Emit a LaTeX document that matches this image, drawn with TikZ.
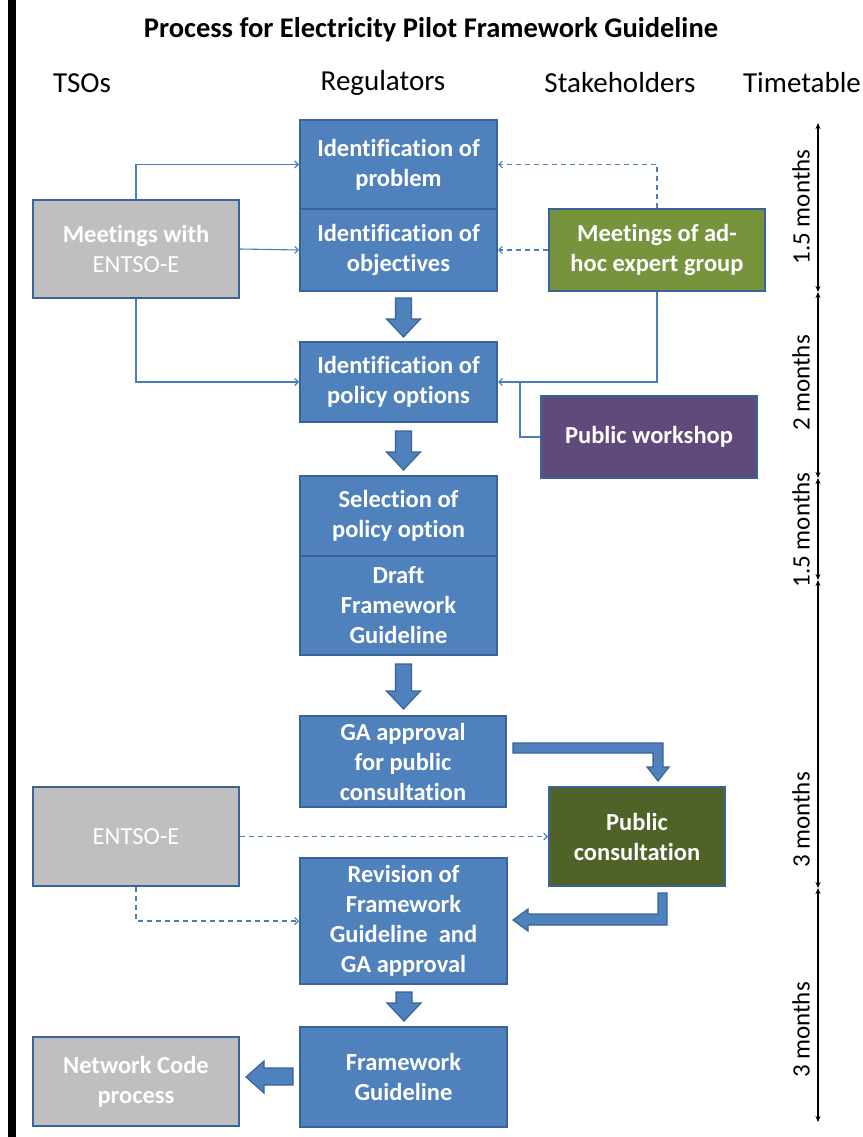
\documentclass[tikz,border=0pt]{standalone}
\usepackage{fontspec}
\setmainfont{Carlito}[Ligatures=NoCommon]
\usetikzlibrary{calc,arrows.meta}

\definecolor{boxblue}{HTML}{4F81BD}
\definecolor{edgeblue}{HTML}{3A6399}
\definecolor{boxgray}{HTML}{BFBFBF}
\definecolor{boxgreen}{HTML}{77933C}
\definecolor{darkgreen}{HTML}{4F6228}
\definecolor{boxpurple}{HTML}{604A7B}
\definecolor{linkblue}{HTML}{4A7EBB}

\tikzset{
  box/.style={draw=edgeblue, line width=2pt, text=white, align=center,
    font=\fontsize{24.5}{30}\selectfont\bfseries, inner sep=0pt},
  bluebox/.style={box, fill=boxblue},
  graybox/.style={box, fill=boxgray},
  greenbox/.style={box, fill=boxgreen},
  dgreenbox/.style={box, fill=darkgreen},
  purplebox/.style={box, fill=boxpurple},
  link/.style={draw=linkblue, line width=1.1pt, -{Straight Barb[length=3.5pt,width=7pt]}},
  dashlink/.style={link, dash pattern=on 5pt off 4pt},
  blockarrow/.style={fill=boxblue, draw=edgeblue, line width=1.2pt, line join=miter},
  span/.style={draw=black, line width=1.1pt, {Stealth[length=6pt,width=5pt]}-{Stealth[length=6pt,width=5pt]}},
  spanlabel/.style={rotate=90, font=\fontsize{25}{25}\selectfont},
  heading/.style={font=\fontsize{29}{29}\selectfont},
  pics/downarrow/.style={code={
    \draw[blockarrow] (-8,0) -- (8,0) -- (8,#1-18) -- (17,#1-18) -- (0,#1)
      -- (-17,#1-18) -- (-8,#1-18) -- cycle;}}
}

\begin{document}
\begin{tikzpicture}[x=1pt, y=-1pt]
  \useasboundingbox (0,0) rectangle (862,1137);
  \fill[white] (0,0) rectangle (862,1137);
  % left margin bar
  \fill[black] (8,0) rectangle (16,1137);

  % title and column headings
  \node[font=\fontsize{28.5}{28.5}\selectfont\bfseries] (title) at (431,30)
    {Process for Electricity Pilot Framework Guideline};
  \node[heading] (hTSO) at (82,83) {TSOs};
  \node[heading] (hReg) at (383,83) {Regulators};
  \node[heading] (hStk) at (620,83) {Stakeholders};
  \node[heading] (hTime) at (802,83) {Timetable};

  % regulators column
  \node[bluebox, minimum width=197, minimum height=89] (prob) at (398.5,164.5)
    {Identification of\\problem};
  \node[bluebox, minimum width=197, minimum height=82] (obj) at (398.5,250)
    {Identification of\\objectives};
  \node[bluebox, minimum width=197, minimum height=80] (pol) at (398.5,382)
    {Identification of\\policy options};
  \node[bluebox, minimum width=197, minimum height=80] (sel) at (398.5,516)
    {Selection of\\policy option};
  \node[bluebox, minimum width=197, minimum height=99] (draft) at (398.5,605.5)
    {Draft\\Framework\\Guideline};
  \node[bluebox, minimum width=206, minimum height=91] (ga) at (403,761.5)
    {GA approval\\for public\\consultation};
  \node[bluebox, minimum width=207, minimum height=126] (rev) at (403.5,921)
    {Revision of\\Framework\\Guideline~~and\\GA approval};
  \node[bluebox, minimum width=207, minimum height=100] (fg) at (403.5,1077)
    {Framework\\Guideline};

  % TSO column
  \node[graybox, minimum width=206, minimum height=98] (mtg) at (136,249)
    {Meetings with\\\mdseries ENTSO-E};
  \node[graybox, minimum width=206, minimum height=99, font=\fontsize{24.5}{30}\selectfont] (entso) at (136,836.5)
    {ENTSO-E};
  \node[graybox, minimum width=206, minimum height=89] (ncp) at (136,1081.5)
    {Network Code\\process};

  % stakeholders column
  \node[greenbox, minimum width=216, minimum height=82] (adhoc) at (657,250)
    {Meetings of ad-\\hoc expert group};
  \node[purplebox, minimum width=216, minimum height=82] (ws) at (649,437)
    {Public workshop};
  \node[dgreenbox, minimum width=176, minimum height=99] (pc) at (637,836.5)
    {Public\\consultation};

  % thin connectors
  \draw[link] (mtg.north) |- (prob.west);
  \draw[link] (mtg.east) -- (obj.west);
  \draw[link] (mtg.south) |- (pol.west);
  \draw[dashlink] (adhoc.north) |- (prob.east);
  \draw[dashlink] (adhoc.west) -- (obj.east);
  \draw[link] (adhoc.south) |- (pol.east);
  \coordinate (wsjoin) at (520,382);
  \draw[draw=linkblue, line width=1.1pt] (ws.west) -| (wsjoin);
  \draw[dashlink] (entso.east) -- (pc.west);
  \draw[dashlink] (entso.south) |- (rev.west);

  % block arrows between process steps
  \pic at ($(obj.south)+(5,6)$) {downarrow=39};
  \pic at ($(pol.south)+(5,8)$) {downarrow=39};
  \pic at ($(draft.south)+(5,8)$) {downarrow=45};
  \pic at ($(rev.south)+(0.5,7)$) {downarrow=29};
  \draw[blockarrow] (513,743) -- (663,743) -- (663,767) -- (669,767) -- (658,781)
    -- (647,767) -- (653,767) -- (653,753) -- (513,753) -- cycle;
  \draw[blockarrow] (658,893) -- (667,893) -- (667,925) -- (528,925) -- (528,931)
    -- (513,920) -- (528,909) -- (528,914) -- (658,914) -- cycle;
  \draw[blockarrow] (293,1068) -- (293,1085) -- (264,1085) -- (264,1093)
    -- (246,1077) -- (264,1061) -- (264,1068) -- cycle;

  % timetable
  \coordinate (t0) at (818,123);
  \coordinate (t1) at (818,292);
  \coordinate (t2) at (818,478);
  \coordinate (t3) at (818,580);
  \coordinate (t4) at (818,888);
  \coordinate (t5) at (818,1122);
  \draw[span] (t0) -- (t1);
  \draw[span] (t1) -- (t2);
  \draw[span] (t2) -- (t3);
  \draw[span] (t3) -- (t4);
  \draw[span] (t4) -- (t5);
  \node[spanlabel] (l1) at (801,207) {1.5 months};
  \node[spanlabel] (l2) at (801,383) {2 months};
  \node[spanlabel] (l3) at (801,530) {1.5 months};
  \node[spanlabel] (l4) at (801,820) {3 months};
  \node[spanlabel] (l5) at (801,1030) {3 months};
\end{tikzpicture}
\end{document}
